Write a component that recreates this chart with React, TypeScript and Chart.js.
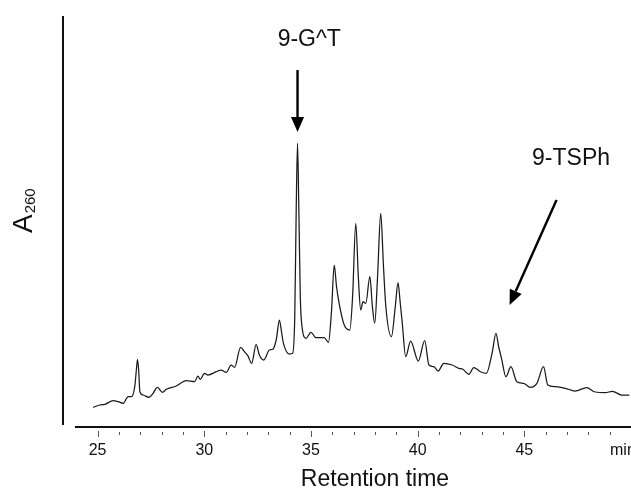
import React, { useEffect, useRef } from "react";
import { Chart, registerables } from "chart.js";

Chart.register(...registerables);

// Retention time (min)
const retentionTimes: number[] = [
  24.79, 25.11, 25.34, 25.73, 25.96, 26.2, 26.43, 26.59, 26.74, 26.82, 26.87, 26.93, 26.98, 27.13, 27.41, 27.6,
  27.8, 28.04, 28.22, 28.69, 29.16, 29.55, 29.7, 29.81, 30.01, 30.17, 30.56, 30.79, 31.03, 31.26, 31.42, 31.7,
  31.88, 32.04, 32.22, 32.43, 32.58, 32.79, 33.05, 33.21, 33.38, 33.52, 33.62, 33.71, 33.99, 34.14, 34.24, 34.31,
  34.37, 34.43, 34.5, 34.58, 34.77, 35.0, 35.23, 35.62, 35.82, 35.96, 36.09, 36.2, 36.32, 36.56, 36.82, 36.95,
  37.1, 37.22, 37.33, 37.44, 37.57, 37.76, 37.88, 37.99, 38.12, 38.27, 38.4, 38.51, 38.77, 38.95, 39.08, 39.18,
  39.28, 39.44, 39.67, 40.03, 40.33, 40.53, 40.76, 40.96, 41.23, 41.62, 41.93, 42.12, 42.4, 42.63, 42.94, 43.22,
  43.5, 43.67, 43.8, 43.93, 44.14, 44.37, 44.65, 44.97, 45.28, 45.59, 45.9, 46.1, 46.45, 46.92, 47.38, 47.92,
  48.32, 48.79, 49.13, 49.56, 49.92,
];

// Absorbance at 260 nm (arbitrary units)
const a260: number[] = [
  19.7, 22, 22.7, 26.3, 25.3, 23.7, 30.3, 30.3, 40.3, 58, 67.7, 55, 35.3, 32, 29.7, 33.7,
  39.7, 34.7, 37.7, 41, 46.3, 45.3, 51, 47.7, 53.7, 52, 55.3, 57, 54.7, 62, 59.7, 79.7,
  75.3, 71.3, 63.7, 82.7, 72, 67, 77, 77.7, 88, 107, 95, 83.7, 73, 73.7, 110, 220,
  283.7, 220, 130, 100.3, 88.7, 94.7, 89.3, 89.3, 84.7, 115, 162, 140, 123.7, 102, 97, 130,
  203.7, 150, 117, 125.3, 123.7, 150.3, 120, 103.7, 150, 213.7, 160, 120.3, 90.3, 120, 144.3, 125,
  103.7, 70.3, 86, 66, 86.3, 62, 60.3, 56, 63.7, 62, 58.7, 57.7, 52.7, 59.3, 55.3, 53.7,
  75, 93.7, 80, 68.7, 50.3, 60.3, 45.3, 43.7, 39.7, 43.7, 60.3, 42, 40.3, 38.7, 36, 39.3,
  35, 34.3, 35.7, 32, 32,
];

const xMin = 23.94;
const xMax = 50.0;
const yMin = 0;
const yMax = 411;

const majorTicks: number[] = [25, 30, 35, 40, 45];
const minorTickStart = 25;
const minorTickEnd = 49;
const unitLabel = "min";
const xTitle = "Retention time";

// Annotations: label text, label centre (t, value), arrow tail and tip (t, value)
const annotLabels: string[] = ["9-G^T", "9-TSPh"];
const annotLabelT: number[] = [34.92, 47.19];
const annotLabelV: number[] = [381, 262];
const arrowTailT: number[] = [34.37, 46.51];
const arrowTailV: number[] = [357, 227];
const arrowTipT: number[] = [34.37, 44.31];
const arrowTipV: number[] = [295, 122];

const FONT = "Arial, 'Liberation Sans', Helvetica, sans-serif";

const decorPlugin = {
  id: "decor",
  afterDraw(chart: any) {
    const ctx: CanvasRenderingContext2D = chart.ctx;
    const xs = chart.scales.x;
    const ys = chart.scales.y;
    const area = chart.chartArea;
    ctx.save();

    // Y axis line
    ctx.strokeStyle = "#111";
    ctx.lineWidth = 2;
    ctx.beginPath();
    ctx.moveTo(63, area.top);
    ctx.lineTo(63, area.bottom - 2);
    ctx.stroke();

    // X axis line
    const axisY = ys.getPixelForValue(0);
    ctx.beginPath();
    ctx.moveTo(area.left, axisY);
    ctx.lineTo(area.right, axisY);
    ctx.stroke();

    // Ticks
    ctx.strokeStyle = "#555";
    ctx.lineWidth = 1;
    for (let t = minorTickStart; t <= minorTickEnd; t++) {
      const px = Math.round(xs.getPixelForValue(t)) + 0.5;
      const major = majorTicks.includes(t);
      ctx.beginPath();
      ctx.moveTo(px, axisY + (major ? 4 : 5));
      ctx.lineTo(px, axisY + (major ? 10 : 8));
      ctx.stroke();
    }

    // Tick labels
    ctx.fillStyle = "#111";
    ctx.font = `16px ${FONT}`;
    ctx.textAlign = "center";
    ctx.textBaseline = "alphabetic";
    majorTicks.forEach((t) => {
      ctx.fillText(String(t), xs.getPixelForValue(t), axisY + 28);
    });
    ctx.textAlign = "left";
    ctx.fillText(unitLabel, 610, axisY + 28);

    // X title
    ctx.font = `23px ${FONT}`;
    ctx.textAlign = "center";
    ctx.fillText(xTitle, 375, 486);

    // Y title A260 (rotated)
    ctx.save();
    ctx.translate(32, 233);
    ctx.rotate(-Math.PI / 2);
    ctx.textAlign = "left";
    ctx.font = `28px ${FONT}`;
    ctx.fillText("A", 0, 0);
    const w = ctx.measureText("A").width;
    ctx.font = `15px ${FONT}`;
    ctx.fillText("260", w + 1, 3);
    ctx.restore();

    // Annotation labels
    ctx.font = `23px ${FONT}`;
    ctx.textAlign = "center";
    annotLabels.forEach((s, i) => {
      ctx.fillText(s, xs.getPixelForValue(annotLabelT[i]), ys.getPixelForValue(annotLabelV[i]));
    });

    // Arrows
    ctx.strokeStyle = "#000";
    ctx.fillStyle = "#000";
    ctx.lineWidth = 2.4;
    for (let i = 0; i < arrowTipT.length; i++) {
      const x0 = xs.getPixelForValue(arrowTailT[i]);
      const y0 = ys.getPixelForValue(arrowTailV[i]);
      const x1 = xs.getPixelForValue(arrowTipT[i]);
      const y1 = ys.getPixelForValue(arrowTipV[i]);
      const ang = Math.atan2(y1 - y0, x1 - x0);
      const headLen = 15;
      const headW = 6.5;
      const bx = x1 - headLen * Math.cos(ang);
      const by = y1 - headLen * Math.sin(ang);
      ctx.beginPath();
      ctx.moveTo(x0, y0);
      ctx.lineTo(bx, by);
      ctx.stroke();
      ctx.beginPath();
      ctx.moveTo(x1, y1);
      ctx.lineTo(bx + headW * Math.sin(ang), by - headW * Math.cos(ang));
      ctx.lineTo(bx - headW * Math.sin(ang), by + headW * Math.cos(ang));
      ctx.closePath();
      ctx.fill();
    }

    ctx.restore();
  },
};

export default function App() {
  const canvasRef = useRef<HTMLCanvasElement | null>(null);

  useEffect(() => {
    if (!canvasRef.current) return;
    const points = retentionTimes.map((t, i) => ({ x: t, y: a260[i] }));
    const chart = new Chart(canvasRef.current, {
      type: "line",
      data: {
        datasets: [
          {
            data: points,
            borderColor: "#1a1a1a",
            borderWidth: 1.25,
            pointRadius: 0,
            cubicInterpolationMode: "monotone",
            fill: false,
          },
        ],
      },
      options: {
        responsive: false,
        animation: false,
        devicePixelRatio: 1,
        layout: { padding: { left: 75, right: 0, top: 16, bottom: 63 } },
        plugins: { legend: { display: false }, tooltip: { enabled: false } },
        scales: {
          x: { type: "linear", min: xMin, max: xMax, display: false },
          y: { type: "linear", min: yMin, max: yMax, display: false },
        },
      },
      plugins: [decorPlugin],
    });
    return () => chart.destroy();
  }, []);

  return (
    <div style={{ position: "absolute", left: 0, top: 0, width: 631, height: 490, background: "#fff" }}>
      <canvas ref={canvasRef} width={631} height={490} style={{ display: "block" }} />
    </div>
  );
}
